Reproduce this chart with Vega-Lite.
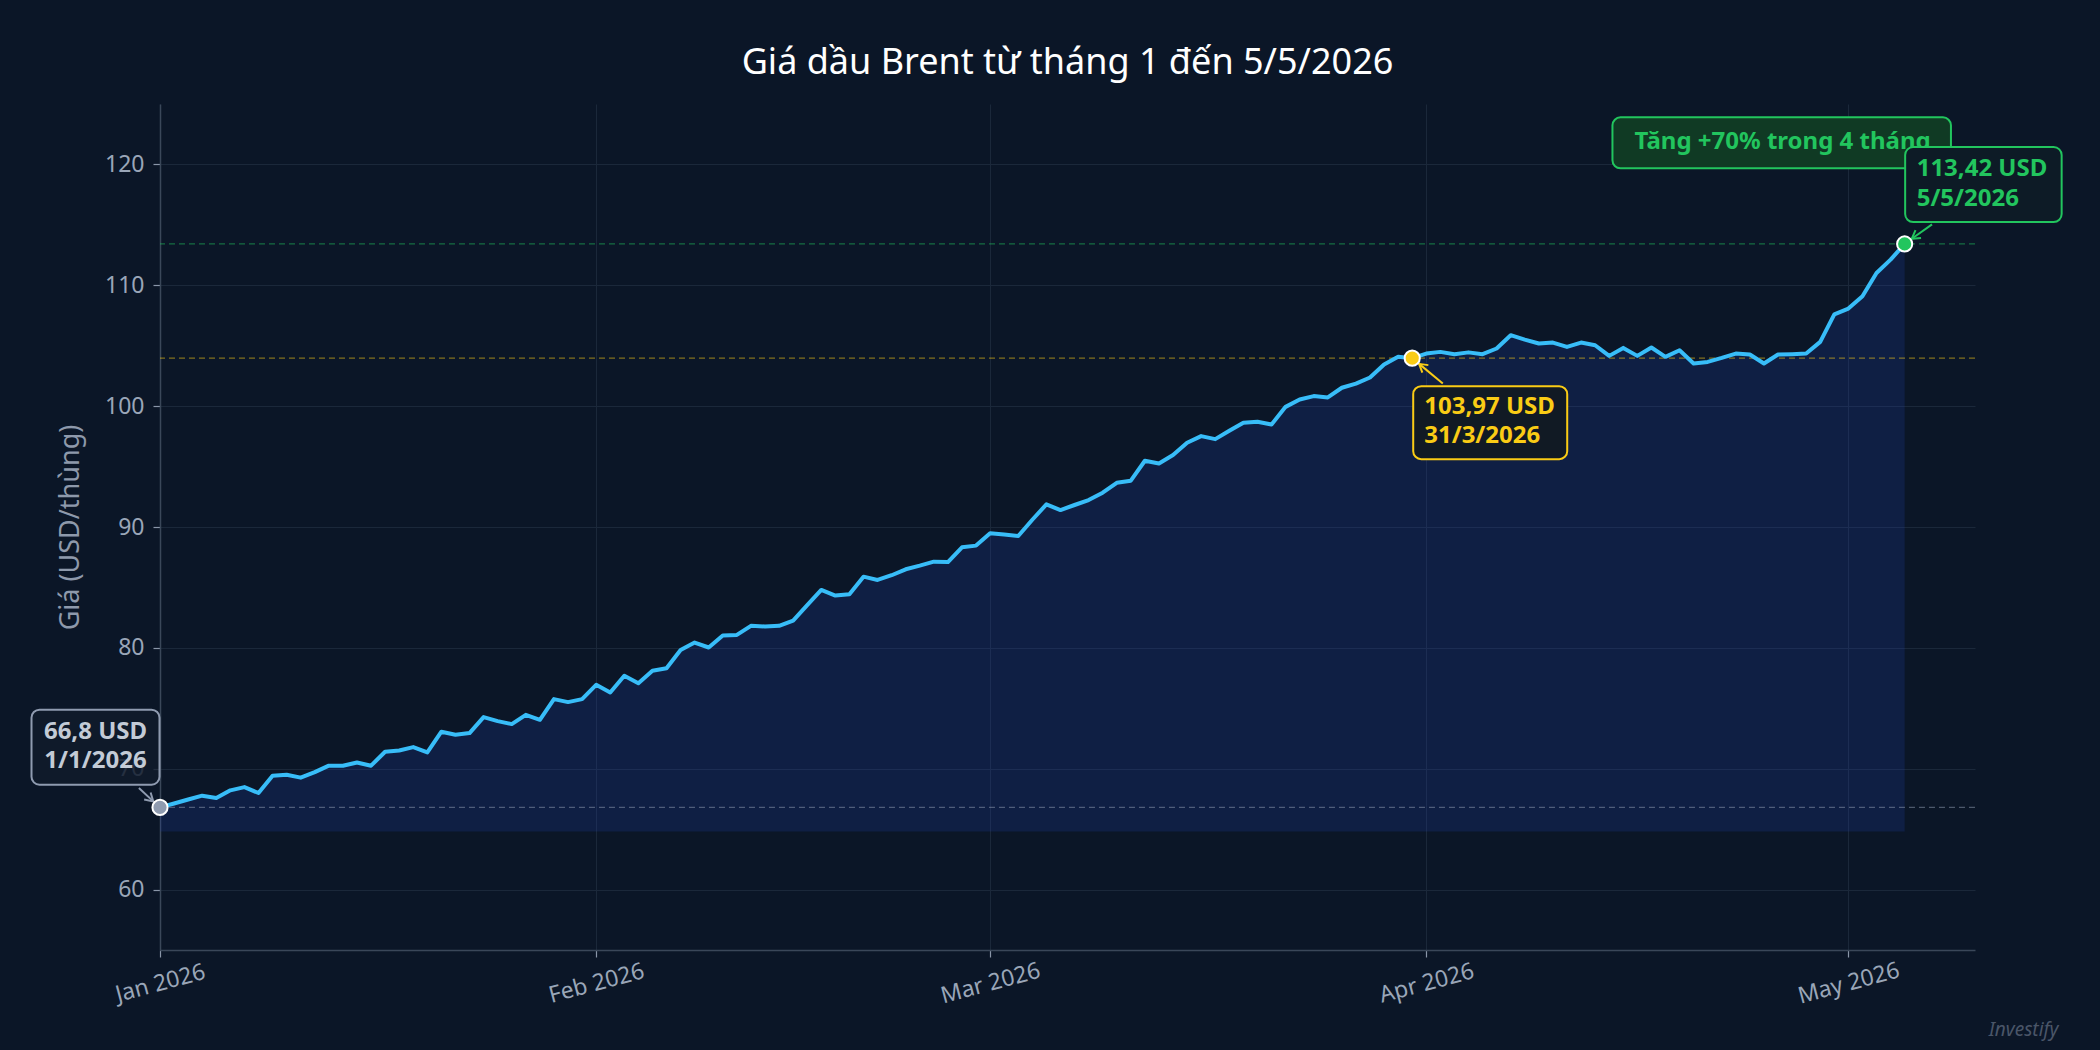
{
  "$schema": "https://vega.github.io/schema/vega-lite/v6.json",
  "autosize": "none",
  "width": 1815,
  "height": 846,
  "padding": {"left": 160, "top": 104, "right": 125, "bottom": 100},
  "background": "#0b1627",
  "title": {
    "text": "Giá dầu Brent từ tháng 1 đến 5/5/2026",
    "frame": "group",
    "anchor": "middle",
    "fontSize": 36,
    "fontWeight": "normal",
    "color": "#ffffff",
    "baseline": "alphabetic",
    "offset": -6
  },
  "datasets": {
    "prices": [
      {"date": "2026-01-01T00:00", "price": 66.80}, {"date": "2026-01-02T00:00", "price": 67.12}, {"date": "2026-01-03T00:00", "price": 67.45},
      {"date": "2026-01-04T00:00", "price": 67.77}, {"date": "2026-01-05T00:00", "price": 67.58}, {"date": "2026-01-06T00:00", "price": 68.21},
      {"date": "2026-01-07T00:00", "price": 68.48}, {"date": "2026-01-08T00:00", "price": 67.99}, {"date": "2026-01-09T00:00", "price": 69.42},
      {"date": "2026-01-10T00:00", "price": 69.50}, {"date": "2026-01-11T00:00", "price": 69.26}, {"date": "2026-01-12T00:00", "price": 69.72},
      {"date": "2026-01-13T00:00", "price": 70.25}, {"date": "2026-01-14T00:00", "price": 70.25}, {"date": "2026-01-15T00:00", "price": 70.52},
      {"date": "2026-01-16T00:00", "price": 70.25}, {"date": "2026-01-17T00:00", "price": 71.40}, {"date": "2026-01-18T00:00", "price": 71.51},
      {"date": "2026-01-19T00:00", "price": 71.79}, {"date": "2026-01-20T00:00", "price": 71.35}, {"date": "2026-01-21T00:00", "price": 73.06},
      {"date": "2026-01-22T00:00", "price": 72.81}, {"date": "2026-01-23T00:00", "price": 72.95}, {"date": "2026-01-24T00:00", "price": 74.27},
      {"date": "2026-01-25T00:00", "price": 73.94}, {"date": "2026-01-26T00:00", "price": 73.69}, {"date": "2026-01-27T00:00", "price": 74.46},
      {"date": "2026-01-28T00:00", "price": 74.05}, {"date": "2026-01-29T00:00", "price": 75.76}, {"date": "2026-01-30T00:00", "price": 75.51},
      {"date": "2026-01-31T00:00", "price": 75.76},
      {"date": "2026-02-01T00:00", "price": 76.94}, {"date": "2026-02-02T00:00", "price": 76.31}, {"date": "2026-02-03T00:00", "price": 77.69},
      {"date": "2026-02-04T00:00", "price": 77.08}, {"date": "2026-02-05T00:00", "price": 78.10}, {"date": "2026-02-06T00:00", "price": 78.32},
      {"date": "2026-02-07T00:00", "price": 79.83}, {"date": "2026-02-08T00:00", "price": 80.44}, {"date": "2026-02-09T00:00", "price": 80.03},
      {"date": "2026-02-10T00:00", "price": 81.02}, {"date": "2026-02-11T00:00", "price": 81.07}, {"date": "2026-02-12T00:00", "price": 81.82},
      {"date": "2026-02-13T00:00", "price": 81.77}, {"date": "2026-02-14T00:00", "price": 81.82}, {"date": "2026-02-15T00:00", "price": 82.26},
      {"date": "2026-02-16T00:00", "price": 83.53}, {"date": "2026-02-17T00:00", "price": 84.79}, {"date": "2026-02-18T00:00", "price": 84.33},
      {"date": "2026-02-19T00:00", "price": 84.44}, {"date": "2026-02-20T00:00", "price": 85.89}, {"date": "2026-02-21T00:00", "price": 85.62},
      {"date": "2026-02-22T00:00", "price": 86.01}, {"date": "2026-02-23T00:00", "price": 86.50}, {"date": "2026-02-24T00:00", "price": 86.80},
      {"date": "2026-02-25T00:00", "price": 87.13}, {"date": "2026-02-26T00:00", "price": 87.10}, {"date": "2026-02-27T00:00", "price": 88.32},
      {"date": "2026-02-28T00:00", "price": 88.46},
      {"date": "2026-03-01T00:00", "price": 89.48}, {"date": "2026-03-02T00:00", "price": 89.37}, {"date": "2026-03-03T00:00", "price": 89.26},
      {"date": "2026-03-04T00:00", "price": 90.60}, {"date": "2026-03-05T00:00", "price": 91.87}, {"date": "2026-03-06T00:00", "price": 91.40},
      {"date": "2026-03-07T00:00", "price": 91.82}, {"date": "2026-03-08T00:00", "price": 92.23}, {"date": "2026-03-09T00:00", "price": 92.84},
      {"date": "2026-03-10T00:00", "price": 93.66}, {"date": "2026-03-11T00:00", "price": 93.83}, {"date": "2026-03-12T00:00", "price": 95.48},
      {"date": "2026-03-13T00:00", "price": 95.26}, {"date": "2026-03-14T00:00", "price": 95.95}, {"date": "2026-03-15T00:00", "price": 96.97},
      {"date": "2026-03-16T00:00", "price": 97.52}, {"date": "2026-03-17T00:00", "price": 97.27}, {"date": "2026-03-18T00:00", "price": 97.96},
      {"date": "2026-03-19T00:00", "price": 98.62}, {"date": "2026-03-20T00:00", "price": 98.71}, {"date": "2026-03-21T00:00", "price": 98.48},
      {"date": "2026-03-22T00:00", "price": 99.94}, {"date": "2026-03-23T00:00", "price": 100.55}, {"date": "2026-03-24T00:00", "price": 100.83},
      {"date": "2026-03-25T00:00", "price": 100.72}, {"date": "2026-03-26T00:00", "price": 101.52}, {"date": "2026-03-27T00:00", "price": 101.87},
      {"date": "2026-03-28T00:00", "price": 102.37}, {"date": "2026-03-29T00:00", "price": 103.44}, {"date": "2026-03-30T00:00", "price": 104.08},
      {"date": "2026-03-31T00:00", "price": 103.97},
      {"date": "2026-04-01T00:00", "price": 104.35}, {"date": "2026-04-02T00:00", "price": 104.49}, {"date": "2026-04-03T00:00", "price": 104.30},
      {"date": "2026-04-04T00:00", "price": 104.45}, {"date": "2026-04-05T00:00", "price": 104.30}, {"date": "2026-04-06T00:00", "price": 104.77},
      {"date": "2026-04-07T00:00", "price": 105.87}, {"date": "2026-04-08T00:00", "price": 105.51}, {"date": "2026-04-09T00:00", "price": 105.18},
      {"date": "2026-04-10T00:00", "price": 105.26}, {"date": "2026-04-11T00:00", "price": 104.90}, {"date": "2026-04-12T00:00", "price": 105.26},
      {"date": "2026-04-13T00:00", "price": 105.04}, {"date": "2026-04-14T00:00", "price": 104.16}, {"date": "2026-04-15T00:00", "price": 104.82},
      {"date": "2026-04-16T00:00", "price": 104.16}, {"date": "2026-04-17T00:00", "price": 104.85}, {"date": "2026-04-18T00:00", "price": 104.08},
      {"date": "2026-04-19T00:00", "price": 104.63}, {"date": "2026-04-20T00:00", "price": 103.53}, {"date": "2026-04-21T00:00", "price": 103.66},
      {"date": "2026-04-22T00:00", "price": 103.99}, {"date": "2026-04-23T00:00", "price": 104.35}, {"date": "2026-04-24T00:00", "price": 104.27},
      {"date": "2026-04-25T00:00", "price": 103.53}, {"date": "2026-04-26T00:00", "price": 104.27}, {"date": "2026-04-27T00:00", "price": 104.30},
      {"date": "2026-04-28T00:00", "price": 104.35}, {"date": "2026-04-29T00:00", "price": 105.32}, {"date": "2026-04-30T00:00", "price": 107.60},
      {"date": "2026-05-01T00:00", "price": 108.07}, {"date": "2026-05-02T00:00", "price": 109.09}, {"date": "2026-05-03T00:00", "price": 111.02},
      {"date": "2026-05-04T00:00", "price": 112.12}, {"date": "2026-05-05T00:00", "price": 113.42}
    ],
    "marks": [
      {"kind": "start", "date": "2026-01-01T00:00", "price": 66.8, "label": "66,8 USD\n1/1/2026"},
      {"kind": "peak", "date": "2026-03-31T00:00", "price": 103.97, "label": "103,97 USD\n31/3/2026"},
      {"kind": "end", "date": "2026-05-05T00:00", "price": 113.42, "label": "113,42 USD\n5/5/2026", "note": "Tăng +70% trong 4 tháng"}
    ]
  },
  "layer": [
    {
      "data": {"name": "prices"},
      "mark": {"type": "area", "color": "#1e40af", "opacity": 0.22},
      "encoding": {
        "x": {
          "field": "date",
          "type": "temporal",
          "scale": {"domain": [{"year": 2026, "month": 1, "date": 1}, {"year": 2026, "month": 5, "date": 10}], "nice": false},
          "axis": {
            "values": [
              {"year": 2026, "month": 1, "date": 1},
              {"year": 2026, "month": 2, "date": 1},
              {"year": 2026, "month": 3, "date": 1},
              {"year": 2026, "month": 4, "date": 1},
              {"year": 2026, "month": 5, "date": 1}
            ],
            "format": "%b %Y",
            "labelAngle": -15,
            "labelAlign": "center",
            "labelBaseline": "middle",
            "labelPadding": 26,
            "labelFlush": false,
            "labelOverlap": false,
            "title": "Investify",
            "titleFontSize": 19,
            "titleFontStyle": "italic",
            "titleFontWeight": "normal",
            "titleColor": "#4a5568",
            "titleAlign": "right",
            "titleBaseline": "alphabetic",
            "titleAngle": 0,
            "titleX": 1898,
            "titleY": 85
          }
        },
        "y": {
          "field": "price",
          "type": "quantitative",
          "scale": {"domain": [55, 125], "nice": false, "zero": false},
          "axis": {
            "values": [60, 70, 80, 90, 100, 110, 120],
            "labelPadding": 9,
            "title": "Giá (USD/thùng)",
            "titleFontSize": 27,
            "titleFontWeight": "normal",
            "titleColor": "#8e99ab",
            "titlePadding": 20
          }
        },
        "y2": {"datum": 64.8}
      }
    },
    {
      "data": {"name": "marks"},
      "mark": {"type": "rule", "strokeDash": [6, 4], "strokeWidth": 1.3, "opacity": 0.5},
      "encoding": {
        "y": {"field": "price", "type": "quantitative"},
        "color": {
          "field": "kind",
          "type": "nominal",
          "scale": {"domain": ["start", "peak", "end"], "range": ["#8f9bb0", "#facc15", "#22c55e"]},
          "legend": null
        }
      }
    },
    {
      "data": {"name": "prices"},
      "mark": {"type": "line", "color": "#38bdf8", "strokeWidth": 4, "strokeJoin": "round"},
      "encoding": {
        "x": {"field": "date", "type": "temporal"},
        "y": {"field": "price", "type": "quantitative"}
      }
    },
    {
      "data": {"name": "marks"},
      "transform": [{"filter": "datum.kind === 'start'"}],
      "encoding": {
        "x": {"field": "date", "type": "temporal"},
        "y": {"field": "price", "type": "quantitative"}
      },
      "layer": [
        {
          "mark": {"type": "rect", "xOffset": -128.5, "x2Offset": -0.5, "yOffset": -97.7, "y2Offset": -22.7, "cornerRadius": 8, "fill": "#111b2b", "fillOpacity": 0.85, "stroke": "#8f9bb0", "strokeWidth": 2},
          "encoding": {"x2": {"field": "date"}, "y2": {"field": "price"}}
        },
        {
          "mark": {"type": "text", "align": "center", "baseline": "middle", "dx": -64.5, "dy": -75.5, "fontSize": 24, "fontWeight": "bold", "color": "#c3cbd6", "lineBreak": "\n", "lineHeight": 29.5},
          "encoding": {"text": {"field": "label"}}
        },
        {
          "mark": {"type": "rule", "xOffset": -21.1, "yOffset": -19.4, "x2Offset": -6.7, "y2Offset": -6, "color": "#8f9bb0", "strokeWidth": 2},
          "encoding": {"x2": {"field": "date"}, "y2": {"field": "price"}}
        },
        {
          "mark": {"type": "point", "shape": "M -0.6 1 L 0 0 L 0.6 1", "filled": false, "color": "#8f9bb0", "strokeWidth": 2, "size": 256, "angle": 132.3, "xOffset": -6.7, "yOffset": -6, "opacity": 1}
        }
      ]
    },
    {
      "data": {"name": "marks"},
      "transform": [{"filter": "datum.kind === 'peak'"}],
      "encoding": {
        "x": {"field": "date", "type": "temporal"},
        "y": {"field": "price", "type": "quantitative"}
      },
      "layer": [
        {
          "mark": {"type": "rect", "xOffset": 1, "x2Offset": 155, "yOffset": 28, "y2Offset": 101, "cornerRadius": 8, "fill": "#111a24", "stroke": "#facc15", "strokeWidth": 2},
          "encoding": {"x2": {"field": "date"}, "y2": {"field": "price"}}
        },
        {
          "mark": {"type": "text", "align": "left", "baseline": "middle", "dx": 12, "dy": 48.5, "fontSize": 24, "fontWeight": "bold", "color": "#facc15", "lineBreak": "\n", "lineHeight": 29.5},
          "encoding": {"text": {"field": "label"}}
        },
        {
          "mark": {"type": "rule", "xOffset": 30.6, "yOffset": 25.3, "x2Offset": 6.9, "y2Offset": 5.7, "color": "#facc15", "strokeWidth": 2},
          "encoding": {"x2": {"field": "date"}, "y2": {"field": "price"}}
        },
        {
          "mark": {"type": "point", "shape": "M -0.6 1 L 0 0 L 0.6 1", "filled": false, "color": "#facc15", "strokeWidth": 2, "size": 256, "angle": -51.3, "xOffset": 6.9, "yOffset": 5.7, "opacity": 1}
        }
      ]
    },
    {
      "data": {"name": "marks"},
      "transform": [{"filter": "datum.kind === 'end'"}],
      "encoding": {
        "x": {"field": "date", "type": "temporal"},
        "y": {"field": "price", "type": "quantitative"}
      },
      "layer": [
        {
          "mark": {"type": "rect", "xOffset": -292.2, "x2Offset": 46.3, "yOffset": -126.6, "y2Offset": -75.6, "cornerRadius": 8, "fill": "#103a24", "stroke": "#22c55e", "strokeWidth": 2},
          "encoding": {"x2": {"field": "date"}, "y2": {"field": "price"}}
        },
        {
          "mark": {"type": "text", "align": "center", "baseline": "middle", "dx": -122, "dy": -102, "fontSize": 24, "fontWeight": "bold", "color": "#22c55e"},
          "encoding": {"text": {"field": "note"}}
        },
        {
          "mark": {"type": "rect", "xOffset": 0.5, "x2Offset": 157, "yOffset": -96.9, "y2Offset": -21.9, "cornerRadius": 8, "fill": "#0d1b26", "stroke": "#22c55e", "strokeWidth": 2},
          "encoding": {"x2": {"field": "date"}, "y2": {"field": "price"}}
        },
        {
          "mark": {"type": "text", "align": "left", "baseline": "middle", "dx": 12, "dy": -74.5, "fontSize": 24, "fontWeight": "bold", "color": "#22c55e", "lineBreak": "\n", "lineHeight": 29.5},
          "encoding": {"text": {"field": "label"}}
        },
        {
          "mark": {"type": "rule", "xOffset": 27.4, "yOffset": -19.6, "x2Offset": 7.1, "y2Offset": -5.2, "color": "#22c55e", "strokeWidth": 2},
          "encoding": {"x2": {"field": "date"}, "y2": {"field": "price"}}
        },
        {
          "mark": {"type": "point", "shape": "M -0.6 1 L 0 0 L 0.6 1", "filled": false, "color": "#22c55e", "strokeWidth": 2, "size": 256, "angle": -125.4, "xOffset": 7.1, "yOffset": -5.2, "opacity": 1}
        }
      ]
    },
    {
      "data": {"name": "marks"},
      "mark": {"type": "point", "shape": "circle", "filled": true, "size": 230, "stroke": "#ffffff", "strokeWidth": 2, "opacity": 1},
      "encoding": {
        "x": {"field": "date", "type": "temporal"},
        "y": {"field": "price", "type": "quantitative"},
        "color": {"field": "kind", "type": "nominal", "legend": null}
      }
    }
  ],
  "config": {
    "font": "Noto Sans",
    "view": {"stroke": null},
    "axis": {
      "gridColor": "#1b283a",
      "gridWidth": 1,
      "domainColor": "#3a4759",
      "domainWidth": 1.5,
      "tickColor": "#8a96a8",
      "tickSize": 7,
      "tickWidth": 1.2,
      "labelColor": "#9aa6b8",
      "labelFontSize": 23,
      "labelFont": "Noto Sans",
      "titleFont": "Noto Sans"
    }
  }
}
